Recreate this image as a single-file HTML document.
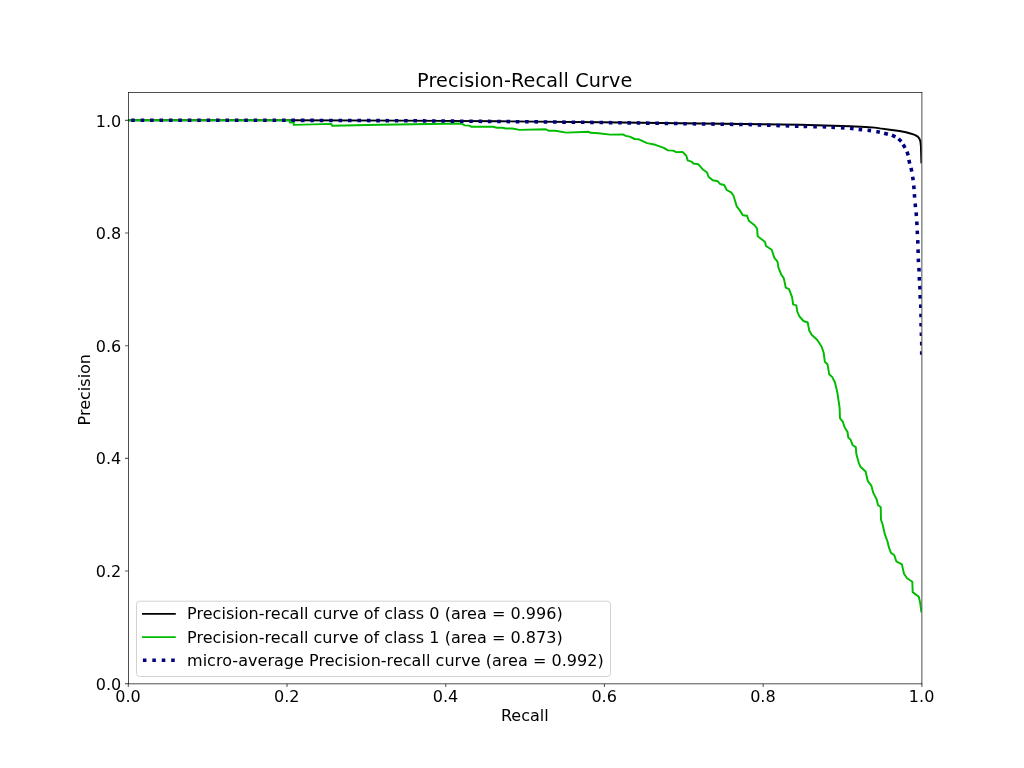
<!DOCTYPE html>
<html lang="en"><head><meta charset="utf-8"><title>Precision-Recall Curve</title>
<style>html,body{margin:0;padding:0;background:#fff;}body{width:1024px;height:768px;overflow:hidden;}svg{display:block;}text{font-family:'DejaVu Sans','Liberation Sans',sans-serif;fill:#000;}</style></head><body>
<svg width="1024" height="768" viewBox="0 0 1024 768">
<rect x="0" y="0" width="1024" height="768" fill="#ffffff"/>
<defs><clipPath id="ax"><rect x="128.00" y="92.16" width="793.60" height="591.36"/></clipPath></defs>
<g clip-path="url(#ax)" fill="none" stroke-linejoin="round">
<polyline points="128.0,120.3 290.0,120.3 400.0,120.6 500.0,121.3 600.0,122.2 700.0,123.5 800.0,124.8 850.0,126.2 865.5,127.0 875.0,127.6 880.0,128.4 889.8,129.7 899.5,131.0 906.0,132.3 911.2,133.7 915.2,135.1 917.8,136.6 919.4,138.6 920.4,141.5 920.9,146.0 921.1,152.6 921.4,162.4" stroke="#000000" stroke-width="1.95" stroke-linecap="square"/>
<polyline points="128.0,120.3 289.8,120.3 289.8,122.5 293.7,122.5 293.7,124.9 331.3,123.9 332.2,125.7 380.0,124.7 461.6,123.5 464.6,125.4 469.5,125.6 471.5,126.8 493.0,126.8 496.9,127.7 502.7,127.7 505.7,128.5 512.5,128.5 519.3,129.9 545.7,129.3 548.6,130.7 555.5,130.7 566.2,132.6 588.7,131.8 590.6,132.8 598.4,133.2 610.2,134.6 622.9,134.4 625.8,135.9 629.7,136.6 634.6,139.0 638.8,139.3 647.1,143.1 655.4,144.8 663.8,147.9 667.9,150.4 673.1,150.6 676.3,152.1 682.5,151.9 686.3,155.8 687.7,160.4 691.9,161.9 693.3,163.5 698.1,164.2 703.3,169.8 707.1,172.5 708.5,176.7 712.7,180.2 717.9,181.3 720.0,184.0 724.2,185.0 726.7,190.0 731.5,192.7 733.5,195.8 736.7,206.3 739.8,210.4 742.9,215.2 747.1,215.8 748.8,220.8 754.6,225.2 757.1,228.8 757.7,236.3 765.0,241.9 766.0,246.0 771.7,249.8 774.4,257.9 777.5,261.7 778.5,267.9 781.3,274.6 783.8,278.3 785.8,287.7 789.0,289.2 792.1,297.1 793.1,304.4 796.3,305.4 797.3,311.7 799.4,316.3 803.5,321.0 807.7,322.5 809.2,330.4 811.9,335.0 817.1,339.8 821.7,346.7 823.8,353.3 824.8,361.7 827.5,364.2 829.2,374.2 832.3,377.1 835.0,382.5 837.5,393.3 839.6,407.9 840.0,418.3 842.7,421.5 844.8,427.7 847.5,431.9 848.3,437.5 850.6,439.6 852.5,445.0 855.8,447.1 856.3,453.8 858.8,463.1 860.4,466.7 865.6,471.5 867.7,480.8 871.3,485.6 873.3,492.9 876.5,499.0 878.1,505.2 880.7,507.0 881.0,519.8 882.7,524.8 884.8,534.2 887.5,541.5 889.0,547.7 891.0,552.9 894.2,555.0 896.3,561.3 901.9,564.4 904.0,573.8 907.1,578.3 912.3,581.7 912.7,592.1 918.8,596.7 920.2,602.9 921.3,611.3" stroke="#00bc00" stroke-width="1.95" stroke-linecap="square"/>
<path d="M131.22 120.32L134.78 120.32M140.65 120.32L144.21 120.32M150.07 120.32L153.63 120.32M159.50 120.32L163.06 120.32M168.92 120.32L172.48 120.32M178.34 120.32L181.91 120.32M187.77 120.32L191.33 120.32M197.20 120.32L200.76 120.32M206.62 120.32L210.18 120.32M216.04 120.32L219.60 120.32M225.47 120.32L229.03 120.32M234.90 120.32L238.46 120.32M244.32 120.32L247.88 120.32M253.75 120.32L257.31 120.32M263.17 120.32L266.73 120.32M272.60 120.32L276.15 120.32M282.02 120.32L285.58 120.32M291.45 120.33L295.00 120.34M300.87 120.36L304.43 120.37M310.30 120.39L313.85 120.40M319.72 120.42L323.28 120.43M329.15 120.46L332.70 120.47M338.57 120.49L342.13 120.50M348.00 120.52L351.55 120.53M357.42 120.55L360.98 120.57M366.85 120.59L370.40 120.60M376.27 120.62L379.83 120.63M385.52 120.65L389.08 120.66M394.83 120.68L398.38 120.70M404.13 120.73L407.69 120.76M413.44 120.81L416.99 120.84M422.74 120.88L426.30 120.91M432.05 120.96L435.60 120.98M441.35 121.03L444.91 121.06M450.66 121.11L454.21 121.13M459.96 121.18L463.52 121.21M469.27 121.25L472.82 121.28M478.57 121.33L482.13 121.36M487.88 121.40L491.43 121.43M497.18 121.48L500.74 121.51M506.49 121.57L510.04 121.60M515.79 121.66L519.35 121.69M525.10 121.75L528.65 121.79M534.40 121.84L537.96 121.88M543.71 121.94L547.26 121.97M553.01 122.03L556.57 122.07M562.32 122.12L565.87 122.16M571.62 122.22L575.18 122.25M580.93 122.31L584.48 122.34M590.23 122.40L593.79 122.44M599.54 122.50L603.09 122.54M608.84 122.62L612.40 122.67M618.15 122.75L621.70 122.80M627.45 122.88L631.01 122.93M636.76 123.01L640.31 123.06M646.06 123.14L649.62 123.19M655.37 123.28L658.92 123.32M664.67 123.41L668.23 123.46M673.98 123.54L677.53 123.59M683.28 123.67L686.84 123.72M692.59 123.80L696.14 123.85M701.89 123.93L705.45 123.98M711.20 124.06L714.75 124.11M720.50 124.19L724.06 124.24M729.81 124.32L733.36 124.37M739.11 124.45L742.67 124.50M748.42 124.56L751.97 124.65M757.72 124.86L761.28 124.98M767.03 125.18L770.58 125.30M776.33 125.50L779.89 125.62M785.64 125.81L789.19 125.93M794.94 126.13L798.50 126.25M803.62 126.45L807.18 126.55M813.32 126.66L816.88 126.74M822.62 126.83L826.18 126.97M831.42 127.30L834.98 127.50M840.92 127.79L844.48 128.01M850.03 128.33L853.57 128.67M858.63 129.41L862.17 129.79M867.53 130.18L871.07 130.62M876.35 131.45L879.85 132.15M884.12 133.19L887.88 134.21M891.93 135.17L895.47 136.83M898.51 138.83L901.29 141.57M903.12 144.51L905.08 147.89M906.98 151.65L908.22 155.35M908.86 159.90L909.74 163.70M910.99 167.89L911.81 171.71M912.65 176.74L913.15 180.26M913.74 185.53L914.06 189.07M914.36 194.13L914.64 197.67M915.13 203.53L915.47 207.07M916.09 212.43L916.41 215.97M916.80 221.52L917.00 225.08M917.21 230.62L917.39 234.18M917.72 240.12L917.88 243.68M918.04 249.42L918.16 252.98M918.31 258.62L918.49 262.18M918.91 267.92L919.09 271.48M919.26 277.02L919.44 280.58M919.82 285.92L919.98 289.48M920.11 295.02L920.29 298.58M920.72 304.42L920.88 307.98M920.97 313.72L921.03 317.28M921.06 323.02L921.14 326.58M921.34 332.42L921.46 335.98M921.67 341.82L921.73 345.38M921.70 351.22L921.70 354.78" stroke="#000080" stroke-width="3.56" stroke-linejoin="miter"/>
</g>
<path d="M128.30 683.80v3.2M128.50 683.62h-3.5M287.02 683.80v3.2M128.50 570.98h-3.5M445.74 683.80v3.2M128.50 458.34h-3.5M604.46 683.80v3.2M128.50 345.70h-3.5M763.18 683.80v3.2M128.50 233.06h-3.5M921.90 683.80v3.2M128.50 120.42h-3.5" stroke="#000" stroke-opacity="0.62" stroke-width="1.1" fill="none"/>
<path d="M128.5 92.1V684.15M921.87 92.1V684.15M128.15 92.5H922.22M128.15 683.8H922.22" fill="none" stroke="#000" stroke-width="0.69"/>
<text x="128.00" y="702.2" font-size="16" text-anchor="middle">0.0</text>
<text x="286.72" y="702.2" font-size="16" text-anchor="middle">0.2</text>
<text x="445.44" y="702.2" font-size="16" text-anchor="middle">0.4</text>
<text x="604.16" y="702.2" font-size="16" text-anchor="middle">0.6</text>
<text x="762.88" y="702.2" font-size="16" text-anchor="middle">0.8</text>
<text x="921.60" y="702.2" font-size="16" text-anchor="middle">1.0</text>
<text x="121.3" y="689.72" font-size="16" text-anchor="end">0.0</text>
<text x="121.3" y="577.08" font-size="16" text-anchor="end">0.2</text>
<text x="121.3" y="464.44" font-size="16" text-anchor="end">0.4</text>
<text x="121.3" y="351.80" font-size="16" text-anchor="end">0.6</text>
<text x="121.3" y="239.16" font-size="16" text-anchor="end">0.8</text>
<text x="121.3" y="126.52" font-size="16" text-anchor="end">1.0</text>
<text x="524.8" y="720.8" font-size="16" text-anchor="middle">Recall</text>
<text transform="translate(89.8 389.7) rotate(-90)" font-size="16" text-anchor="middle">Precision</text>
<text x="524.8" y="86.8" font-size="19.2" letter-spacing="0.13" text-anchor="middle">Precision-Recall Curve</text>
<rect x="136.5" y="601.2" width="474" height="75.3" rx="3.2" ry="3.2" fill="#ffffff" fill-opacity="0.8" stroke="#cccccc" stroke-width="0.89"/>
<line x1="142.9" y1="613.9" x2="174.9" y2="613.9" stroke="#000000" stroke-width="1.78" stroke-linecap="square"/>
<text x="187.0" y="619.3" font-size="16" letter-spacing="0.04">Precision-recall curve of class 0 (area = 0.996)</text>
<line x1="142.9" y1="637.1" x2="174.9" y2="637.1" stroke="#00bc00" stroke-width="1.78" stroke-linecap="square"/>
<text x="187.0" y="642.5" font-size="16" letter-spacing="0.04">Precision-recall curve of class 1 (area = 0.873)</text>
<line x1="142.9" y1="660.3" x2="174.9" y2="660.3" stroke="#000080" stroke-width="3.56" stroke-dasharray="3.56 5.87"/>
<text x="187.0" y="665.8" font-size="16" letter-spacing="0.04">micro-average Precision-recall curve (area = 0.992)</text>
</svg></body></html>
